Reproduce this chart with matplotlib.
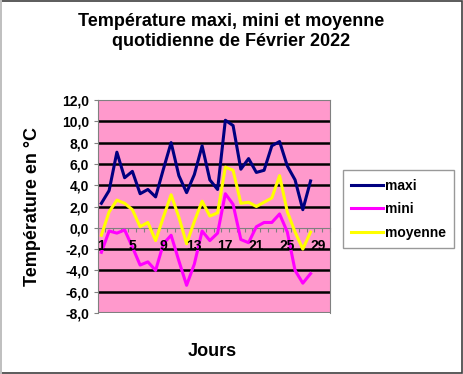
import numpy as np
import matplotlib
matplotlib.use("Agg")
import matplotlib.pyplot as plt
from matplotlib.patches import Rectangle

plt.rcParams['font.family'] = ['Liberation Sans', 'DejaVu Sans']
plt.rcParams['font.weight'] = 'bold'

# Températures de février 2022 (jours 1 à 28)
days = np.arange(1, 29)
maxi = [2.3, 3.5, 7.1, 4.7, 5.3, 3.2, 3.6, 2.9, 5.5, 8.0, 4.9, 3.3, 5.0, 7.7,
        4.5, 3.6, 10.1, 9.6, 5.5, 6.5, 5.2, 5.4, 7.7, 8.1, 5.8, 4.5, 1.7, 4.4]
mini = [-2.3, -0.3, -0.5, -0.2, -1.8, -3.5, -3.2, -4.0, -1.5, -0.7, -3.1, -5.4,
        -3.4, -0.3, -1.2, -0.5, 3.2, 2.2, -1.1, -1.4, 0.1, 0.5, 0.5, 1.3,
        -0.4, -4.0, -5.2, -4.3]
moyenne = [-0.7, 1.5, 2.6, 2.3, 1.7, 0.1, 0.5, -1.2, 1.0, 3.1, 1.0, -1.5, 0.6, 2.5,
           1.1, 1.4, 5.7, 5.4, 2.3, 2.4, 2.0, 2.4, 2.8, 4.9, 1.5, -0.4, -2.0, -0.4]
n_categories = 30
xtick_days = [1, 5, 9, 13, 17, 21, 25, 29]

fig = plt.figure(figsize=(4.63, 3.74), dpi=100)
fig.patch.set_facecolor('white')

# cadre de la figure
fig.add_artist(Rectangle((0.002, 0.002), 0.996, 0.995, transform=fig.transFigure,
                         fill=False, edgecolor='#404040', linewidth=1.2))
fig.add_artist(Rectangle((0, 0), 0.004, 1, transform=fig.transFigure,
                         facecolor='#c0c0c0', edgecolor='none'))

ax = fig.add_axes([0.2106, 0.1631, 0.502, 0.5695])
ax.set_facecolor('#ff99cc')

ax.plot(days, maxi, color='#000080', lw=2.2, label='maxi', zorder=4)
ax.plot(days, mini, color='#ff00ff', lw=2.2, label='mini', zorder=4)
ax.plot(days, moyenne, color='#ffff00', lw=2.2, label='moyenne', zorder=4)

ax.set_xlim(0.5, n_categories + 0.5)
ax.set_ylim(-8, 12)
yt = np.arange(-8, 13, 2)
ax.set_yticks(yt)
ax.set_yticklabels([f"{v:.1f}".replace('.', ',') for v in yt], fontsize=10, fontweight='bold')
for v in yt:
    if v not in (0, -8, 12):
        ax.axhline(v, color='black', lw=1.8, zorder=2)

# axe des x à zéro
ax.spines['bottom'].set_position(('data', 0))
ax.spines['bottom'].set_color('#808080')
ax.set_xticks(np.arange(0.5, n_categories + 1, 1))
ax.set_xticklabels([])
ax.tick_params(axis='x', length=3, color='#808080', direction='out')
ax.tick_params(axis='y', length=3, color='#808080', direction='out', pad=3)
for d in xtick_days:
    ax.text(d, -1.75, str(d), ha='center', va='center', fontsize=10, fontweight='bold', zorder=5)

for s in ['left', 'top', 'right']:
    ax.spines[s].set_color('#808080')
ax.axhline(-8, color='#808080', lw=1.5, zorder=3)

fig.text(0.5, 0.965, "Température maxi, mini et moyenne\nquotidienne de Février 2022",
         ha='center', va='top', fontsize=13, fontweight='bold', linespacing=1.2)
fig.text(0.071, 0.447, "Température en °C", rotation=90, ha='center', va='center',
         fontsize=13, fontweight='bold')
fig.text(0.458, 0.059, "Jours", ha='center', va='center', fontsize=13, fontweight='bold')

leg = fig.legend(loc='upper left', bbox_to_anchor=(0.741, 0.545), borderaxespad=0,
                 fontsize=10, frameon=True, fancybox=False, handlelength=2.3,
                 handletextpad=0.1, borderpad=0.6, labelspacing=0.7)
leg.get_frame().set_edgecolor('#808080')
leg.get_frame().set_linewidth(1.0)
for t in leg.get_texts():
    t.set_fontweight('bold')

fig.savefig('out.png', dpi=100)
